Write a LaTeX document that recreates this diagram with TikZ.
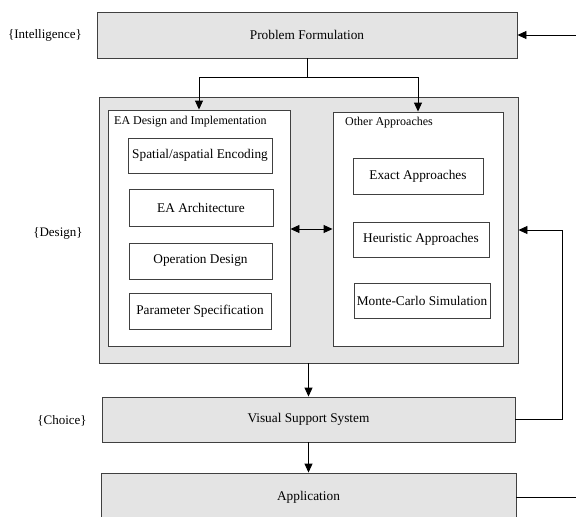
\documentclass[tikz,border=0pt]{standalone}
\usepackage{fontspec}
\setmainfont{Liberation Serif}
\usetikzlibrary{arrows.meta}
\definecolor{boxgray}{gray}{0.894}
\definecolor{edgegray}{gray}{0.25}
\tikzset{stage/.style = {draw=edgegray, fill=boxgray, line width=0.9pt, inner sep=0pt,
                         font=\fontsize{13.3}{15}\selectfont},
         panel/.style = {draw=edgegray, fill=white, line width=0.9pt, inner sep=0pt},
         item/.style = {draw=edgegray, fill=white, line width=0.9pt, inner sep=0pt,
                        font=\fontsize{13.3}{15}\selectfont},
         title/.style = {anchor=west, inner sep=0pt, font=\fontsize{12}{14}\selectfont},
         phase/.style = {inner sep=0pt, font=\fontsize{13}{15}\selectfont},
         arr/.style = {line width=0.9pt, -{Triangle[length=9pt, width=8pt]}},
         darr/.style = {line width=0.9pt, {Triangle[length=9pt, width=8pt]}-{Triangle[length=9pt, width=8pt]}}}

\begin{document}
\begin{tikzpicture}[x=1pt, y=-1pt]
      \clip (0, 0) rectangle (576, 517);
      % stages
      \node [stage, minimum width=420, minimum height=46] (prob) at (307, 35) {Problem Formulation};
      \node [stage, minimum width=419, minimum height=266] (design) at (308.5, 230) {};
      \node [stage, minimum width=413, minimum height=45] (visual) at (308.5, 419.5) {Visual Support System};
      \node [stage, minimum width=415, minimum height=48] (app) at (308.5, 497) {Application};
      % phases
      \node [phase] (intel) at (45, 35) {\{Intelligence\}};
      \node [phase] (des) at (58, 233) {\{Design\}};
      \node [phase] (choice) at (62, 421) {\{Choice\}};
      % panels inside the design stage
      \node [panel, minimum width=182, minimum height=236] (ea) at (199, 228) {};
      \node [panel, minimum width=170, minimum height=234] (other) at (418, 229) {};
      \node [title] (eatitle) at (114, 122) {EA Design and Implementation};
      \node [title] (othertitle) at (345, 123) {Other Approaches};
      \node [item, minimum width=144, minimum height=35] (enc) at (200, 155.5) {Spatial/aspatial Encoding};
      \node [item, minimum width=144, minimum height=37] (arch) at (201, 207.5) {EA Architecture};
      \node [item, minimum width=143, minimum height=36] (oper) at (200.5, 261) {Operation Design};
      \node [item, minimum width=142, minimum height=36] (param) at (200, 311) {Parameter Specification};
      \node [item, minimum width=130, minimum height=36] (exact) at (418, 176) {Exact Approaches};
      \node [item, minimum width=136, minimum height=35] (heur) at (421, 239.5) {Heuristic Approaches};
      \node [item, minimum width=136, minimum height=35] (monte) at (422, 300.5) {Monte-Carlo Simulation};
      % connectors
      \coordinate (inR) at (576, 35);
      \coordinate (outR) at (576, 497);
      \draw [arr] (inR) -- (prob.east);
      \draw [line width=0.9pt] (prob.south) -- ++(0, 19) coordinate (split);
      \draw [arr] (split) -| (ea.north);
      \draw [arr] (split) -| (other.north);
      \draw [darr] (ea.east |- other.west) -- (other.west);
      \draw [arr] (design.south) -- (visual.north);
      \draw [arr] (visual.south) -- (app.north);
      \draw [arr] (visual.east) -- ++(47, 0) |- (design.east);
      \draw [line width=0.9pt] (app.east) -- (outR);
    \end{tikzpicture}
\end{document}
